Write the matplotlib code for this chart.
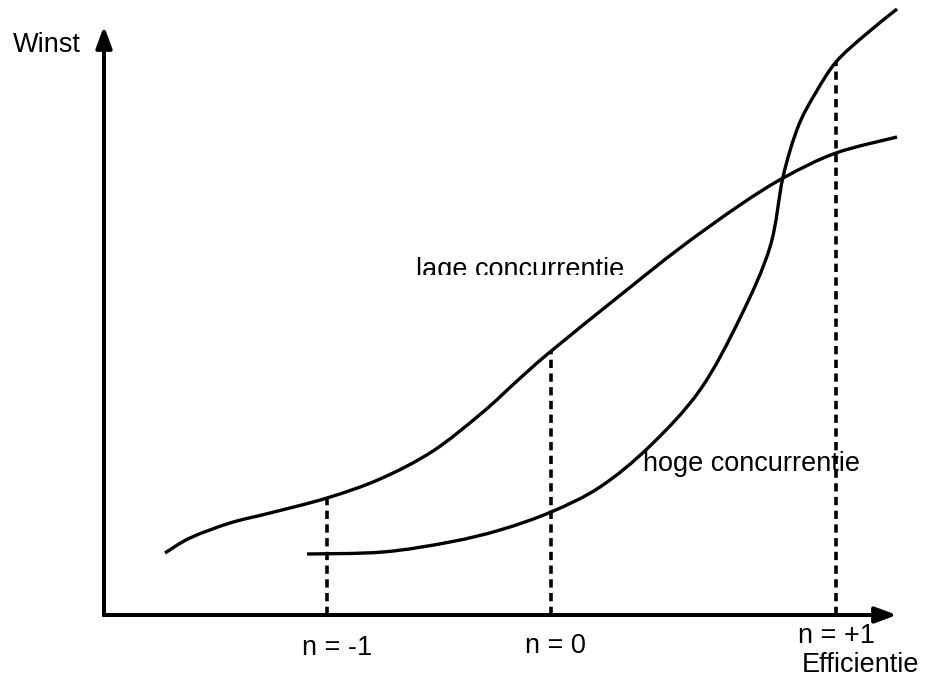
#!/usr/bin/env python3
import matplotlib as mpl
mpl.use('Agg')
import matplotlib.pyplot as plt
import numpy as np
from matplotlib.patches import Rectangle, PathPatch
from matplotlib.path import Path
mpl.rcParams['font.family'] = ['Liberation Sans', 'DejaVu Sans']
mpl.rcParams['font.size'] = 19.5

# curves (x = efficiency, y = profit, origin at axis corner)
lage_x = [61, 86, 126, 166, 223, 276, 329, 379, 413, 446, 519, 576, 636, 681, 732, 793]
lage_y = [62, 77, 92, 102, 117, 136, 164, 203, 234, 263, 322, 367, 410, 438, 462, 478]

hoge_x = [203, 279, 346, 396, 447, 496, 546, 596, 636, 666, 679, 694, 711, 732, 761, 793]
hoge_y = [61, 63, 73, 85, 103, 128, 169, 225, 297, 368, 438, 488, 521, 553, 580, 606]

# dashed markers for n = -1, 0, +1
n_labels = ['n = -1', 'n = 0', 'n = +1']
n_x = [223, 447, 732]
n_top = [117, 263, 553]


def smooth_path(xs, ys):
    # bezier segments through the read points (catmull-rom handles)
    p = np.column_stack([xs, ys]).astype(float)
    verts = [p[0]]
    codes = [Path.MOVETO]
    for i in range(len(p) - 1):
        p0 = p[i - 1] if i > 0 else p[i]
        p3 = p[i + 2] if i + 2 < len(p) else p[i + 1]
        c1 = p[i] + (p[i + 1] - p0) / 6.0
        c2 = p[i + 1] - (p3 - p[i]) / 6.0
        verts += [c1, c2, p[i + 1]]
        codes += [Path.CURVE4] * 3
    return Path(verts, codes)


fig = plt.figure(figsize=(9.25, 6.82), dpi=100)
ax = fig.add_axes([0, 0, 1, 1])
ax.set_xlim(-104, 821)
ax.set_ylim(-67, 615)
ax.axis('off')

# axes with arrow heads
arrow = dict(arrowstyle='-|>,head_length=0.65,head_width=0.24',
             color='k', lw=2.9, mutation_scale=20,
             shrinkA=0, shrinkB=0, capstyle='butt')
ax.annotate('', xy=(793, 0), xytext=(-1.5, 0), arrowprops=arrow)
ax.annotate('', xy=(0, 589), xytext=(0, -1.5), arrowprops=arrow)

# curves
for xs, ys in ((lage_x, lage_y), (hoge_x, hoge_y)):
    ax.add_patch(PathPatch(smooth_path(xs, ys), fill=False,
                           edgecolor='k', lw=2.4, capstyle='butt'))

# dashed verticals
for x, top in zip(n_x, n_top):
    ax.plot([x, x], [0, top], color='k', lw=2.6,
            dashes=(2.3, 1.5), dash_capstyle='butt')

# labels
ax.text(-91, 563, 'Winst', va='baseline', ha='left')
t = ax.text(312, 338, 'lage concurrentie', va='baseline', ha='left')
t.set_clip_on(True)
t.set_clip_path(Rectangle((300, 340), 400, 40, transform=ax.transData))
ax.text(539, 144, 'hoge concurrentie', va='baseline', ha='left')

label_pos = [(198, -40), (421, -38), (694, -28)]
for lab, (x, y) in zip(n_labels, label_pos):
    ax.text(x, y, lab, va='baseline', ha='left')
ax.text(698, -57, 'Efficientie', va='baseline', ha='left')

fig.savefig('out.png', dpi=100)
